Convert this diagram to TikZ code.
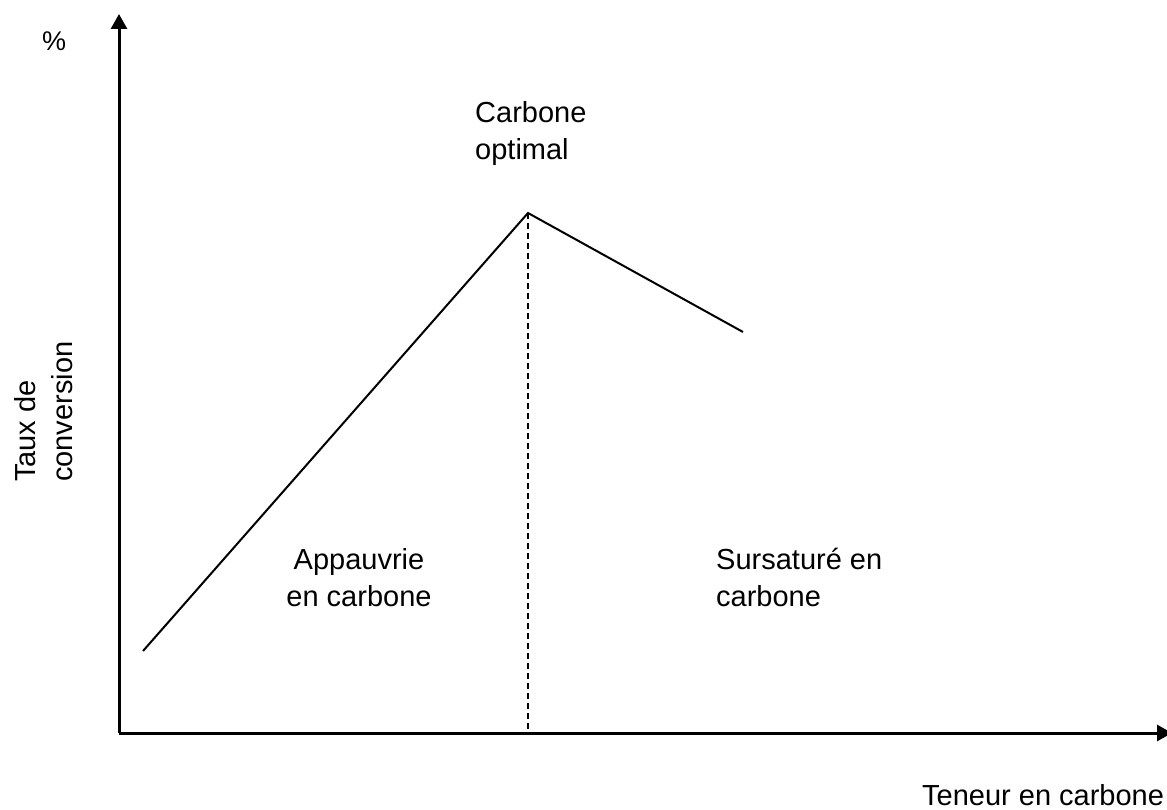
\documentclass[tikz,border=0pt]{standalone}
\usepackage{fontspec}
\setmainfont{Liberation Sans}
\usetikzlibrary{arrows.meta}

\begin{document}
\begin{tikzpicture}[x=1pt,y=-1pt,
    axis/.style={line width=3pt,-{Triangle[length=15pt,width=16pt]}},
    lbl/.style={inner sep=0pt,font=\fontsize{29}{37}\selectfont,align=left}]
  \useasboundingbox (0,0) rectangle (1167,810);

  % axes
  \coordinate (O) at (119,733);
  \coordinate (Ytop) at (119,14);
  \coordinate (Xend) at (1172,733);
  \draw[axis] (O) -- (Ytop);
  \draw[axis] (O) -- (Xend);

  % conversion curve, peak at optimal carbon
  \coordinate (A) at (143,651);
  \coordinate (P) at (528,213);
  \coordinate (B) at (743,332);
  \draw[line width=2pt] (A) -- (P) -- (B);
  \coordinate (Pfoot) at (P |- O);
  \draw[line width=1.6pt,dash pattern=on 6pt off 4pt] (P) -- (Pfoot);

  % labels (base anchor = last line)
  \node[lbl,anchor=base west,font=\fontsize{27}{30}\selectfont] (pct) at (42,51) {\%};
  \node[lbl,anchor=base west] (opt) at (475,160) {Carbone\\optimal};
  \node[lbl,anchor=base,align=center] (poor) at (359,606) {Appauvrie\\en carbone};
  \node[lbl,anchor=base west] (rich) at (716,606) {Sursaturé en\\carbone};
  \node[lbl,anchor=base west,rotate=90] (yl) at (72,482) {Taux de\\conversion};
  \node[lbl,anchor=base west] (xl) at (922,805) {Teneur en carbone};
\end{tikzpicture}
\end{document}
